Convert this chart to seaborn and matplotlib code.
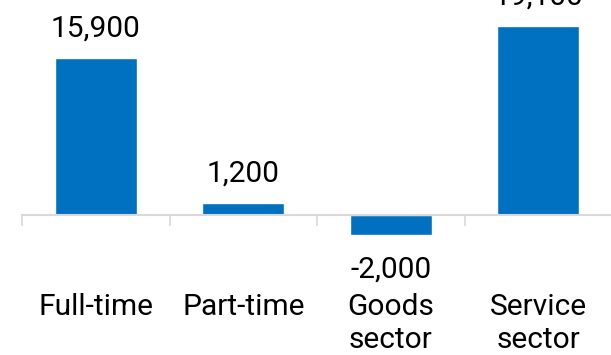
import matplotlib
matplotlib.use("Agg")
import matplotlib.pyplot as plt
import seaborn as sns
import pandas as pd
from matplotlib.ticker import FixedLocator

# Employment change by type of work and sector
categories = ["Full-time", "Part-time", "Goods\nsector", "Service\nsector"]
values = [15900, 1200, -2000, 19100]
value_labels = ["15,900", "1,200", "-2,000", "19,100"]

df = pd.DataFrame({"category": categories, "change": values})

sns.set_theme(style="white")
plt.rcParams["font.family"] = ["Roboto", "DejaVu Sans"]

BLUE = "#0070C0"
GRID = "#D9D9D9"
FS = 21.5

fig = plt.figure(figsize=(6.11, 3.55), dpi=100)
ax = fig.add_axes([0.036, 0.0, 0.966, 1.0])

sns.barplot(data=df, x="category", y="change", color=BLUE, width=0.555,
            saturation=1, ax=ax)

ax.set_xlim(-0.5, 3.5)
ax.set_ylim(-14170, 21760)

for side in ["top", "right", "left"]:
    ax.spines[side].set_visible(False)
ax.spines["bottom"].set_position(("data", 0))
ax.spines["bottom"].set_color(GRID)
ax.spines["bottom"].set_linewidth(1.5)

ax.set_yticks([])
ax.set_xlabel("")
ax.set_ylabel("")

ax.tick_params(axis="x", which="major", length=0, pad=56.5, labelsize=FS,
               labelcolor="#000000")
for lbl in ax.get_xticklabels():
    lbl.set_linespacing(1.2)
ax.xaxis.set_minor_locator(FixedLocator([-0.5, 0.5, 1.5, 2.5]))
ax.tick_params(axis="x", which="minor", length=8, width=1.2, color=GRID,
               direction="out", bottom=True)

# value labels: positive bars above, negative bars below
pos_labels = [t if v >= 0 else "" for t, v in zip(value_labels, values)]
neg_labels = [t if v < 0 else "" for t, v in zip(value_labels, values)]
ax.bar_label(ax.containers[0], labels=pos_labels, padding=11, fontsize=FS,
             color="#000000")
ax.bar_label(ax.containers[0], labels=neg_labels, padding=15, fontsize=FS,
             color="#000000")

fig.savefig("out.png", dpi=100)
